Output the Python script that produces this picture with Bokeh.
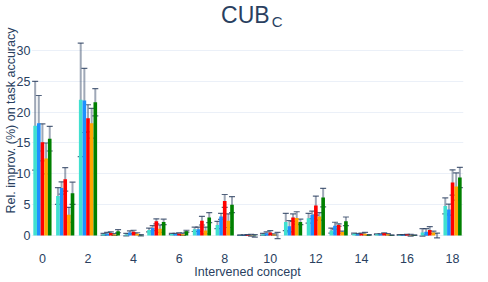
from bokeh.plotting import figure
from bokeh.models import ColumnDataSource, Whisker, TeeHead, FixedTicker, Label, Range1d
from bokeh.transform import dodge
from bokeh.embed import file_html
from bokeh.resources import INLINE

concepts = list(range(19))
tick_values = [0, 2, 4, 6, 8, 10, 12, 14, 16, 18]

series_names = ["s1", "s2", "s3", "s4", "s5"]
series_colors = ["#40E0D0", "#1E90FF", "#FF0000", "#FFA500", "#008000"]

s1 = [17.8, 6.4, 22.0, 0.2, 0.15, 0.9, 0.25, 1.0, 1.7, 0.05, 0.2, 2.2, 2.8, 0.8, 0.3, 0.2, 0.1, 0.5, 4.8]
s1_err = [7.2, 1.35, 9.2, 0.15, 0.2, 0.3, 0.1, 0.35, 0.6, 0.05, 0.15, 1.4, 0.8, 0.4, 0.1, 0.05, 0.05, 0.6, 1.3]
s2 = [18.2, 7.7, 21.9, 0.3, 0.5, 1.2, 0.25, 1.0, 3.1, 0.05, 0.35, 1.5, 3.35, 1.6, 0.2, 0.2, 0.1, 0.6, 4.2]
s2_err = [4.5, 1.0, 5.2, 0.2, 0.25, 0.4, 0.1, 0.35, 0.5, 0.05, 0.25, 0.9, 0.6, 0.55, 0.1, 0.05, 0.05, 0.5, 0.9]
s3 = [15.1, 9.1, 19.0, 0.4, 0.6, 2.3, 0.3, 2.4, 5.6, 0.1, 0.5, 2.9, 4.85, 1.7, 0.3, 0.35, 0.15, 0.9, 8.6]
s3_err = [3.0, 1.9, 2.2, 0.2, 0.25, 0.4, 0.15, 0.7, 1.05, 0.05, 0.3, 0.6, 1.55, 0.2, 0.1, 0.1, 0.05, 0.55, 2.05]
s4 = [12.5, 3.35, 18.2, 0.15, 0.3, 1.1, 0.2, 0.8, 2.4, 0.05, 0.15, 2.85, 3.1, 0.55, 0.3, 0.2, 0.05, 0.5, 7.95]
s4_err = [2.5, 1.2, 2.4, 0.15, 0.15, 0.6, 0.2, 0.55, 1.1, 0.15, 0.1, 1.0, 0.6, 0.15, 0.2, 0.1, 0.15, 0.2, 2.2]
s5 = [15.7, 6.85, 21.6, 0.7, 0.05, 2.2, 0.7, 2.9, 5.0, -0.05, 0.0, 2.2, 6.15, 2.3, 0.1, 0.05, 0.05, 0.0, 9.4]
s5_err = [2.0, 1.8, 2.2, 0.25, 0.1, 0.45, 0.15, 0.8, 1.3, 0.2, 0.5, 0.45, 1.5, 0.7, 0.05, 0.05, 0.05, 0.4, 1.65]

values = [s1, s2, s3, s4, s5]
errors = [s1_err, s2_err, s3_err, s4_err, s5_err]

FONT = "Liberation Sans"
TXT = "#2a3f5f"

p = figure(width=488, height=282, output_backend="svg", toolbar_location=None,
           x_range=Range1d(-0.48, 18.48), y_range=Range1d(-0.81, 38.1),
           min_border_left=31, min_border_right=25, min_border_top=0, min_border_bottom=42)
p.title.visible = False
p.outline_line_color = None
p.background_fill_color = "white"

bar_w = 0.8 / 5
for i in range(5):
    off = (i - 2) * bar_w
    lo = [v - e for v, e in zip(values[i], errors[i])]
    hi = [v + e for v, e in zip(values[i], errors[i])]
    src = ColumnDataSource(dict(x=concepts, top=values[i], lo=lo, hi=hi))
    p.vbar(x=dodge("x", off), top="top", bottom=0, width=bar_w, source=src,
           fill_color=series_colors[i], line_color=None)
    w = Whisker(base=dodge("x", off), lower="lo", upper="hi", source=src,
                line_color=TXT, line_alpha=0.45, line_width=2,
                upper_head=TeeHead(size=6, line_color=TXT, line_alpha=0.8, line_width=1.2),
                lower_head=TeeHead(size=6, line_color=TXT, line_alpha=0.8, line_width=1.2))
    p.add_layout(w)

p.xgrid.grid_line_color = None
p.ygrid.grid_line_color = "#EBF0F8"
p.ygrid.grid_line_width = 1
p.yaxis.ticker = FixedTicker(ticks=[0, 5, 10, 15, 20, 25, 30])
p.xaxis.ticker = FixedTicker(ticks=tick_values)

for ax in (p.xaxis[0], p.yaxis[0]):
    ax.axis_line_color = None
    ax.major_tick_line_color = None
    ax.minor_tick_line_color = None
    ax.major_tick_out = 0
    ax.major_tick_in = 0
    ax.minor_tick_out = 0
    ax.minor_tick_in = 0
    ax.major_label_text_font = FONT
    ax.major_label_text_font_size = "12.5px"
    ax.major_label_text_color = TXT
    ax.axis_label_text_font = FONT
    ax.axis_label_text_font_size = "12.5px"
    ax.axis_label_text_color = TXT
    ax.axis_label_text_font_style = "normal"

p.xaxis.axis_label = "Intervened concept"
p.yaxis.axis_label = "Rel. improv. (%) on task accuracy"
p.xaxis.major_label_standoff = 13
p.xaxis.axis_label_standoff = -1
p.yaxis.major_label_standoff = 1
p.yaxis.axis_label_standoff = -4

p.add_layout(Label(x=7.84, y=35.68, text="CUB", text_font=FONT, text_font_size="23px",
                   text_color=TXT, text_baseline="alphabetic", text_align="left"))
p.add_layout(Label(x=10.06, y=34.71, text="C", text_font=FONT, text_font_size="15px",
                   text_color=TXT, text_baseline="alphabetic", text_align="left"))

open("out.html", "w").write(file_html(p, INLINE))
